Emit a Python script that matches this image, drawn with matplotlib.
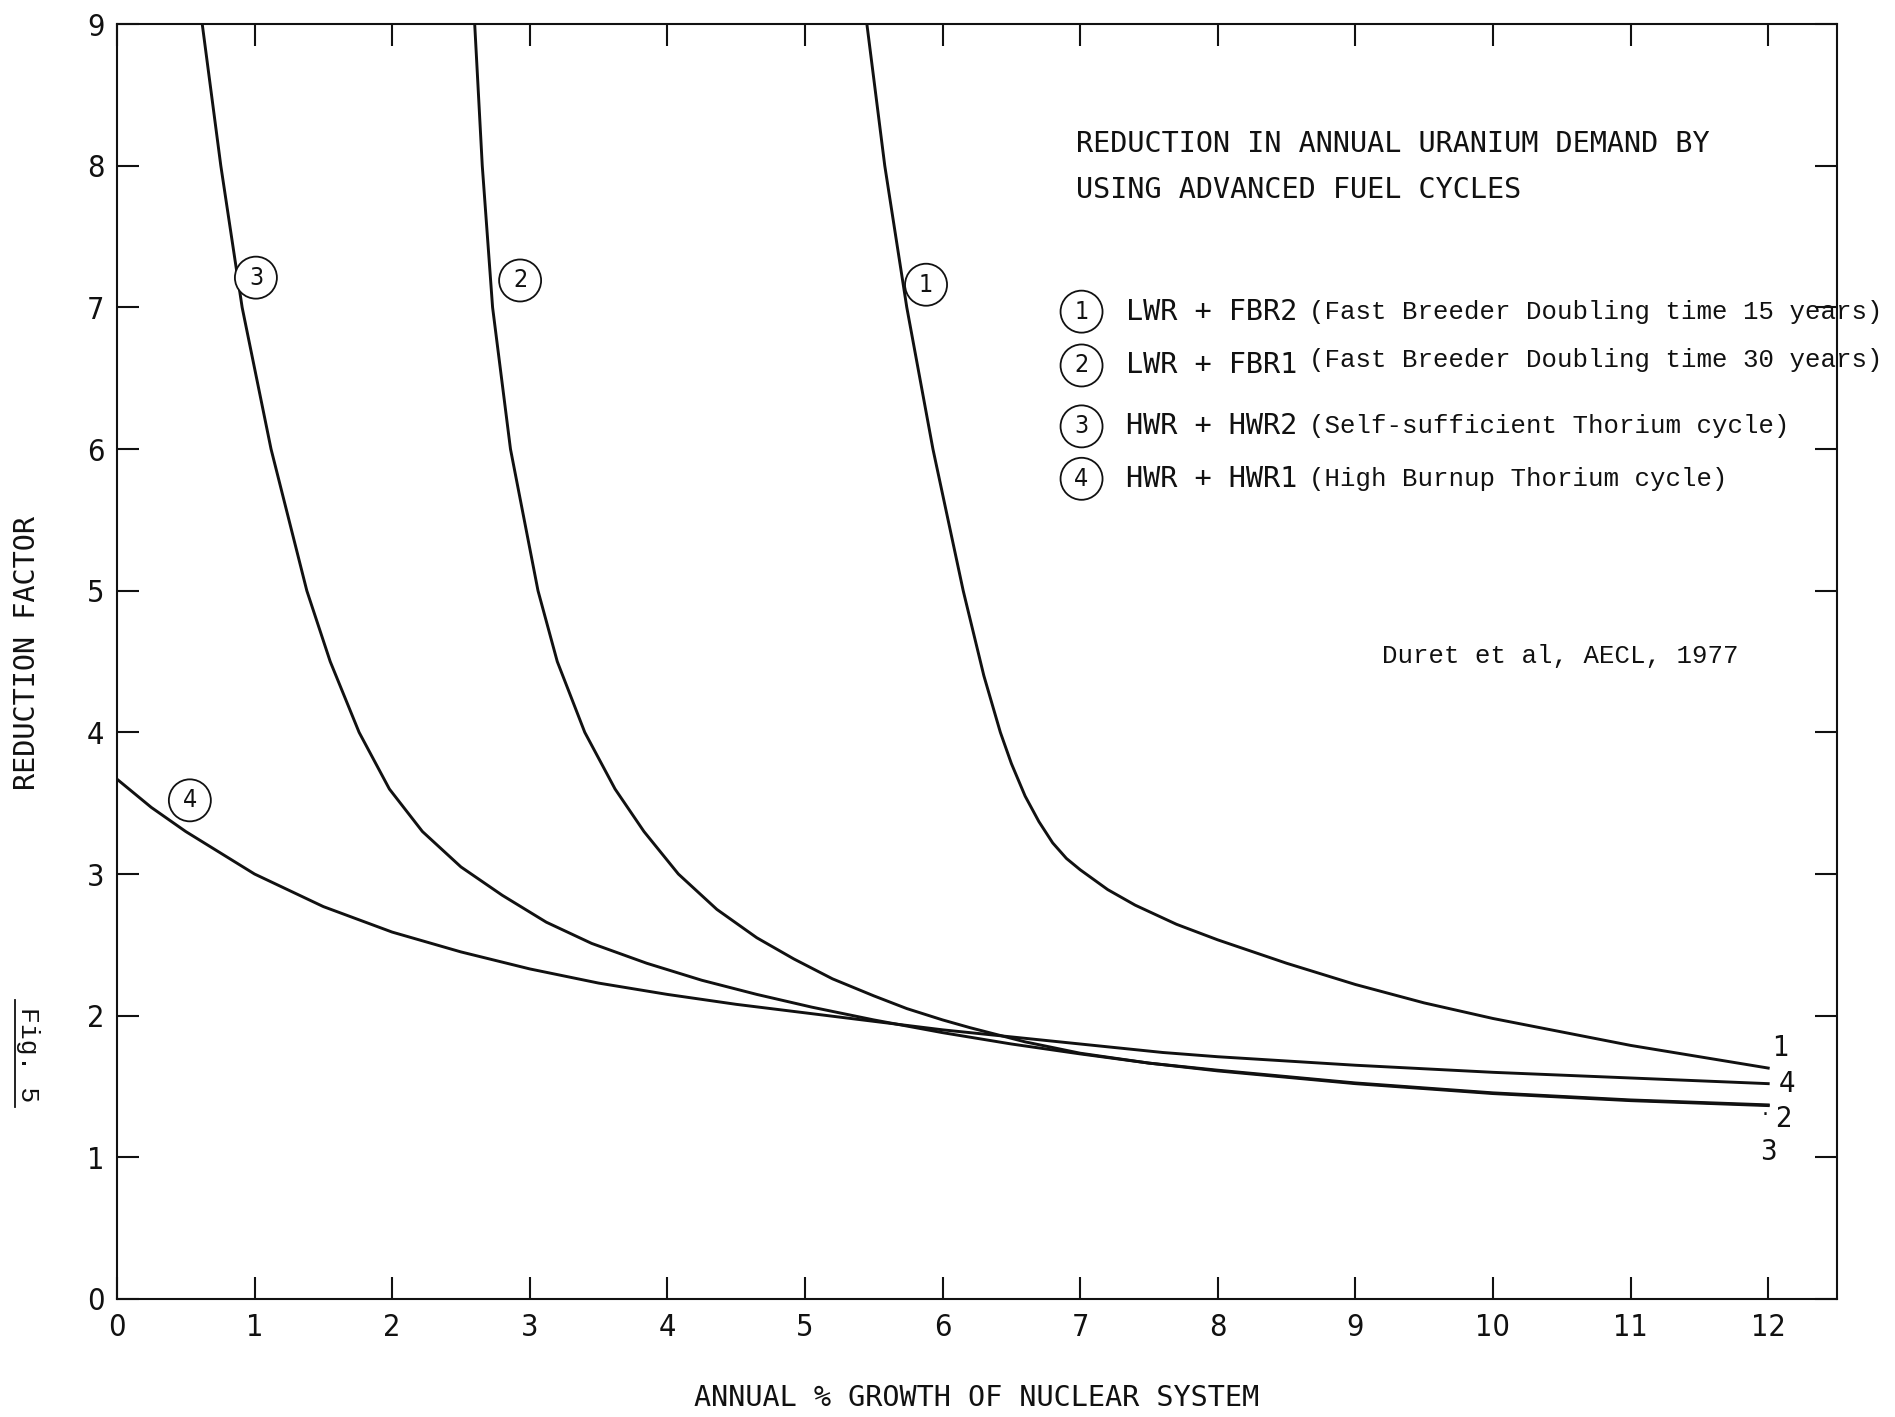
"""
Reduction in annual uranium demand by using advanced fuel cycles
(Duret et al, AECL, 1977) -- redrawn from the scanned figure.
"""

import matplotlib
matplotlib.use("Agg")
import matplotlib.pyplot as plt
from matplotlib import font_manager
from matplotlib.lines import Line2D

INK = "#111111"

_fonts = font_manager.fontManager.ttflist
_names = {f.name for f in _fonts}
PLOTTER_FONT = "DejaVu Sans Mono"
TYPE_FONT = "Liberation Mono" if "Liberation Mono" in _names else "DejaVu Sans Mono"
# narrow digits if a condensed face is around
_condensed = [f.name for f in _fonts
              if str(f.stretch) in ("condensed", "semi-condensed", "75", "87")
              or "Narrow" in f.name or "Condensed" in f.name]
if "Liberation Sans Narrow" in _names:
    DIGIT_FONT, DIGIT_STRETCH = "Liberation Sans Narrow", "normal"
elif "DejaVu Sans" in _condensed:
    DIGIT_FONT, DIGIT_STRETCH = "DejaVu Sans", "condensed"
else:
    DIGIT_FONT, DIGIT_STRETCH = "DejaVu Sans", "normal"

# curve 1: LWR + FBR2
growth_1 = [5.45, 5.58, 5.74, 5.93, 6.15, 6.30, 6.42, 6.50, 6.60, 6.70,
            6.80, 6.90, 7.00, 7.20, 7.40, 7.70, 8.00, 8.50, 9.00, 9.50,
            10.0, 11.0, 12.0]
factor_1 = [9.0, 8.0, 7.0, 6.0, 5.0, 4.4, 4.0, 3.78, 3.55, 3.37,
            3.22, 3.11, 3.03, 2.89, 2.78, 2.645, 2.535, 2.37, 2.22, 2.09,
            1.98, 1.79, 1.63]

# curve 2: LWR + FBR1
growth_2 = [2.60, 2.655, 2.73, 2.86, 3.06, 3.20, 3.40, 3.62, 3.83, 4.08,
            4.36, 4.65, 4.92, 5.20, 5.50, 5.74, 6.00, 6.20, 6.60, 7.00,
            7.50, 8.00, 9.00, 10.0, 11.0, 12.0]
factor_2 = [9.0, 8.0, 7.0, 6.0, 5.0, 4.5, 4.0, 3.6, 3.3, 3.0,
            2.75, 2.55, 2.40, 2.26, 2.14, 2.05, 1.97, 1.915, 1.815, 1.735,
            1.665, 1.615, 1.525, 1.455, 1.405, 1.37]

# curve 3: HWR + HWR2
growth_3 = [0.62, 0.755, 0.91, 1.12, 1.38, 1.55, 1.76, 1.98, 2.22, 2.50,
            2.80, 3.12, 3.45, 3.85, 4.25, 4.65, 5.05, 5.50, 6.00, 6.50,
            7.00, 7.50, 8.00, 9.00, 10.0, 11.0, 12.0]
factor_3 = [9.0, 8.0, 7.0, 6.0, 5.0, 4.5, 4.0, 3.6, 3.3, 3.05,
            2.85, 2.66, 2.51, 2.37, 2.25, 2.15, 2.06, 1.97, 1.88, 1.80,
            1.73, 1.665, 1.61, 1.52, 1.45, 1.40, 1.365]

# curve 4: HWR + HWR1
growth_4 = [0.0, 0.25, 0.5, 1.0, 1.5, 2.0, 2.5, 3.0, 3.5, 4.0, 4.5, 5.0,
            5.5, 6.0, 6.5, 7.0, 7.6, 8.0, 9.0, 10.0, 11.0, 12.0]
factor_4 = [3.67, 3.47, 3.30, 3.00, 2.77, 2.59, 2.45, 2.33, 2.23, 2.15, 2.08,
            2.02, 1.96, 1.90, 1.85, 1.80, 1.74, 1.71, 1.65, 1.60, 1.56, 1.52]

curve_ids = ["1", "2", "3", "4"]
systems = ["LWR + FBR2", "LWR + FBR1", "HWR + HWR2", "HWR + HWR1"]
notes = ["(Fast Breeder Doubling time 15 years)",
         "(Fast Breeder Doubling time 30 years)",
         "(Self-sufficient Thorium cycle)",
         "(High Burnup Thorium cycle)"]
x_ticks = list(range(0, 13))
y_ticks = list(range(0, 10))

title_lines = ["REDUCTION IN ANNUAL URANIUM DEMAND BY",
               "USING ADVANCED FUEL CYCLES"]
source = "Duret et al, AECL, 1977"


def circled(ax, x, y, label, size=18):
    ax.text(x, y, label, fontsize=size, family=DIGIT_FONT,
            fontstretch=DIGIT_STRETCH, color=INK, ha="center", va="center",
            bbox=dict(boxstyle="circle,pad=0.36", fc="white", ec=INK, lw=1.3))


fig = plt.figure(figsize=(18.95, 14.17), dpi=100)
fig.patch.set_facecolor("white")
ax = fig.add_axes([0.0617, 0.0833, 0.9077, 0.8997])

series = [(growth_1, factor_1), (growth_2, factor_2),
          (growth_3, factor_3), (growth_4, factor_4)]
for gx, fy in series:
    ax.plot(gx, fy, color=INK, lw=2.1, solid_joinstyle="round")

ax.set_xlim(0, 12.5)
ax.set_ylim(0, 9)
ax.set_xticks(x_ticks)
ax.set_yticks(y_ticks)
ax.set_xticklabels([str(t) for t in x_ticks], family=DIGIT_FONT,
                   fontstretch=DIGIT_STRETCH, fontsize=22)
ax.set_yticklabels([str(t) for t in y_ticks], family=DIGIT_FONT,
                   fontstretch=DIGIT_STRETCH, fontsize=22)
ax.tick_params(axis="both", direction="in", length=16, width=1.5,
               colors=INK, top=True, right=True)
ax.tick_params(axis="x", pad=10)
ax.tick_params(axis="y", pad=9)
for spine in ax.spines.values():
    spine.set_color(INK)
    spine.set_linewidth(1.5)

# circled curve labels
circled(ax, 1.01, 7.21, curve_ids[2])
circled(ax, 2.93, 7.19, curve_ids[1])
circled(ax, 5.88, 7.16, curve_ids[0])
circled(ax, 0.53, 3.52, curve_ids[3])

# labels at the right-hand ends of the curves
end_labels = [(12.09, 1.77, "1"), (12.14, 1.52, "4"),
              (12.11, 1.27, "2"), (12.0, 1.04, "3")]
for x, y, s in end_labels:
    ax.text(x, y, s, fontsize=21, family=DIGIT_FONT,
            fontstretch=DIGIT_STRETCH, color=INK, ha="center", va="center")
ax.text(11.95, 1.34, ".", fontsize=16, color=INK, ha="left", va="center")

# title block
for i, line in enumerate(title_lines):
    ax.text(6.97, 8.15 - 0.32 * i, line, fontsize=20.5, family=PLOTTER_FONT,
            color=INK, ha="left", va="center")

# key
row_y = [6.97, 6.59, 6.16, 5.79]
for i, (cid, sysname, note) in enumerate(zip(curve_ids, systems, notes)):
    circled(ax, 7.01, row_y[i], cid)
    ax.text(7.33, row_y[i], sysname, fontsize=20.5, family=PLOTTER_FONT,
            color=INK, ha="left", va="center")
    lift = 0.04 if i == 1 else 0.0
    ax.text(8.66, row_y[i] + lift, note, fontsize=18.5, family=TYPE_FONT,
            color=INK, ha="left", va="center")

ax.text(9.19, 4.54, source, fontsize=18.5, family=TYPE_FONT, color=INK,
        ha="left", va="center")

# axis titles
fig.text(0.0142, 0.539, "REDUCTION FACTOR", rotation=90, fontsize=20.5,
         family=PLOTTER_FONT, color=INK, ha="center", va="center")
fig.text(0.5156, 0.0134, "ANNUAL % GROWTH OF NUCLEAR SYSTEM", fontsize=20.5,
         family=PLOTTER_FONT, color=INK, ha="center", va="center")

# figure number, typed sideways with an underline
fig.text(0.0150, 0.256, "Fig. 5", rotation=-90, fontsize=19,
         family=TYPE_FONT, color=INK, ha="center", va="center")
fig.add_artist(Line2D([0.0077, 0.0077], [0.219, 0.294], color=INK, lw=1.3,
                      transform=fig.transFigure))

fig.savefig("out.png", dpi=100, facecolor="white")
plt.close(fig)
